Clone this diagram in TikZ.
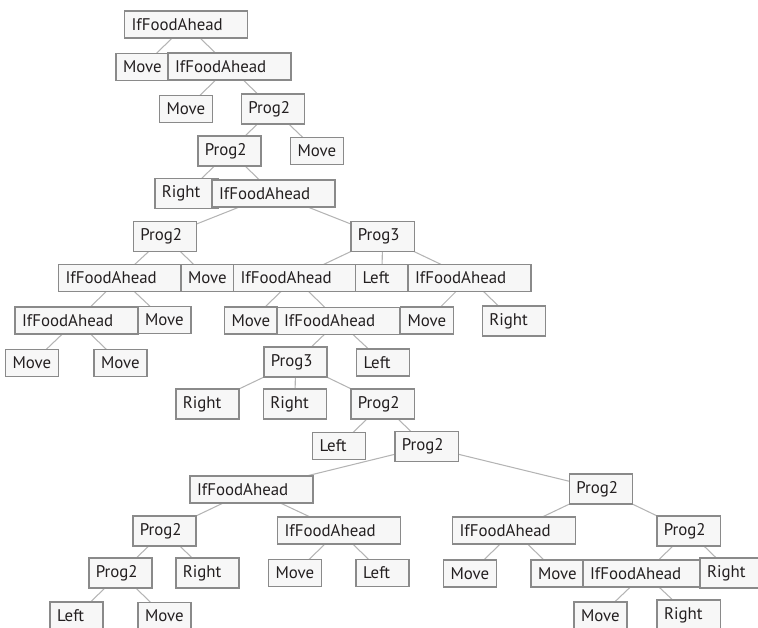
\documentclass[tikz,border=0pt]{standalone}
\usepackage{fontspec}
\setmainfont{PT Sans}
\usepackage{tikz}
\usetikzlibrary{backgrounds}

\definecolor{boxfill}{HTML}{F7F7F7}
\definecolor{boxline}{HTML}{8A8A8A}
\definecolor{edgeline}{HTML}{B4B4B4}
\definecolor{ink}{HTML}{231F20}

\tikzset{
  gpbox/.style={rectangle,draw=boxline,fill=boxfill,line width=0.85pt,text=ink,
    font=\fontsize{9.6}{11}\selectfont,inner xsep=0.14cm,inner ysep=4.2pt,
    text width=#1,align=left},
  wide/.style={gpbox=2.18cm},
  mid/.style={gpbox=0.99cm},
  short/.style={gpbox=0.78cm},
  edge/.style={draw=edgeline,line width=0.6pt}
}

\begin{document}
\begin{tikzpicture}[x=0.02cm,y=-0.02cm]
\useasboundingbox (0,0) rectangle (758,628);
% program tree, top to bottom
\node[wide] (n1) at (186,24.5) {IfFoodAhead};
\node[short] (n2) at (142.5,67) {Move};
\node[wide] (n3) at (229.5,66.5) {IfFoodAhead};
\node[short] (n4) at (186,109) {Move};
\node[mid] (n5) at (273,109) {Prog2};
\node[mid] (n6) at (229.5,151) {Prog2};
\node[short] (n7) at (317,151) {Move};
\node[mid] (n8) at (186.5,193.5) {Right};
\node[wide] (n9) at (273.5,193.5) {IfFoodAhead};
\node[mid] (n10) at (165,236.5) {Prog2};
\node[mid] (n11) at (382.5,236.5) {Prog3};
\node[wide] (n12) at (120,278) {IfFoodAhead};
\node[short] (n13) at (207.5,278) {Move};
\node[wide] (n14) at (295,278) {IfFoodAhead};
\node[short] (n15) at (382,278) {Left};
\node[wide] (n16) at (469.5,278) {IfFoodAhead};
\node[wide] (n17) at (76.5,320.5) {IfFoodAhead};
\node[short] (n18) at (164.5,320) {Move};
\node[short] (n21) at (251,320.5) {Move};
\node[wide] (n22) at (338.5,321) {IfFoodAhead};
\node[short] (n23) at (427,320.5) {Move};
\node[mid] (n24) at (514,321) {Right};
\node[short] (n19) at (32,363) {Move};
\node[short] (n20) at (120.5,363) {Move};
\node[mid] (n25) at (295.5,362) {Prog3};
\node[short] (n26) at (383,362.5) {Left};
\node[mid] (n27) at (207.5,404) {Right};
\node[mid] (n28) at (295,404) {Right};
\node[mid] (n29) at (382.5,404) {Prog2};
\node[short] (n30) at (339,446) {Left};
\node[mid] (n31) at (426.5,446.5) {Prog2};
\node[wide] (n32) at (251.5,489.5) {IfFoodAhead};
\node[mid] (n33) at (601,489) {Prog2};
\node[mid] (n34) at (164.5,531) {Prog2};
\node[wide] (n35) at (339,530.5) {IfFoodAhead};
\node[wide] (n42) at (514,530.5) {IfFoodAhead};
\node[mid] (n43) at (688.5,531) {Prog2};
\node[mid] (n36) at (120.5,573) {Prog2};
\node[mid] (n37) at (207.5,573) {Right};
\node[short] (n38) at (295,573) {Move};
\node[short] (n39) at (382.5,573) {Left};
\node[short] (n44) at (470,573.5) {Move};
\node[short] (n45) at (557.5,573.5) {Move};
\node[wide] (n46) at (644.5,573.5) {IfFoodAhead};
\node[mid] (n47) at (731.75,573) {Right};
\node[short] (n40) at (76.5,615.5) {Left};
\node[short] (n41) at (164.5,616) {Move};
\node[short] (n48) at (600.5,615.5) {Move};
\node[mid] (n49) at (688.75,615) {Right};

% connectors, centre to centre behind the boxes
\begin{pgfonlayer}{background}
\draw[edge] (n1.center) -- (n2.center);
\draw[edge] (n1.center) -- (n3.center);
\draw[edge] (n3.center) -- (n4.center);
\draw[edge] (n3.center) -- (n5.center);
\draw[edge] (n5.center) -- (n6.center);
\draw[edge] (n5.center) -- (n7.center);
\draw[edge] (n6.center) -- (n8.center);
\draw[edge] (n6.center) -- (n9.center);
\draw[edge] (n9.center) -- (n10.center);
\draw[edge] (n9.center) -- (n11.center);
\draw[edge] (n10.center) -- (n12.center);
\draw[edge] (n10.center) -- (n13.center);
\draw[edge] (n11.center) -- (n14.center);
\draw[edge] (n11.center) -- (n15.center);
\draw[edge] (n11.center) -- (n16.center);
\draw[edge] (n12.center) -- (n17.center);
\draw[edge] (n12.center) -- (n18.center);
\draw[edge] (n17.center) -- (n19.center);
\draw[edge] (n17.center) -- (n20.center);
\draw[edge] (n14.center) -- (n21.center);
\draw[edge] (n14.center) -- (n22.center);
\draw[edge] (n16.center) -- (n23.center);
\draw[edge] (n16.center) -- (n24.center);
\draw[edge] (n22.center) -- (n25.center);
\draw[edge] (n22.center) -- (n26.center);
\draw[edge] (n25.center) -- (n27.center);
\draw[edge] (n25.center) -- (n28.center);
\draw[edge] (n25.center) -- (n29.center);
\draw[edge] (n29.center) -- (n30.center);
\draw[edge] (n29.center) -- (n31.center);
\draw[edge] (n31.center) -- (n32.center);
\draw[edge] (n31.center) -- (n33.center);
\draw[edge] (n32.center) -- (n34.center);
\draw[edge] (n32.center) -- (n35.center);
\draw[edge] (n34.center) -- (n36.center);
\draw[edge] (n34.center) -- (n37.center);
\draw[edge] (n36.center) -- (n40.center);
\draw[edge] (n36.center) -- (n41.center);
\draw[edge] (n35.center) -- (n38.center);
\draw[edge] (n35.center) -- (n39.center);
\draw[edge] (n33.center) -- (n42.center);
\draw[edge] (n33.center) -- (n43.center);
\draw[edge] (n42.center) -- (n44.center);
\draw[edge] (n42.center) -- (n45.center);
\draw[edge] (n43.center) -- (n46.center);
\draw[edge] (n43.center) -- (n47.center);
\draw[edge] (n46.center) -- (n48.center);
\draw[edge] (n46.center) -- (n49.center);
\end{pgfonlayer}

\end{tikzpicture}
\end{document}
